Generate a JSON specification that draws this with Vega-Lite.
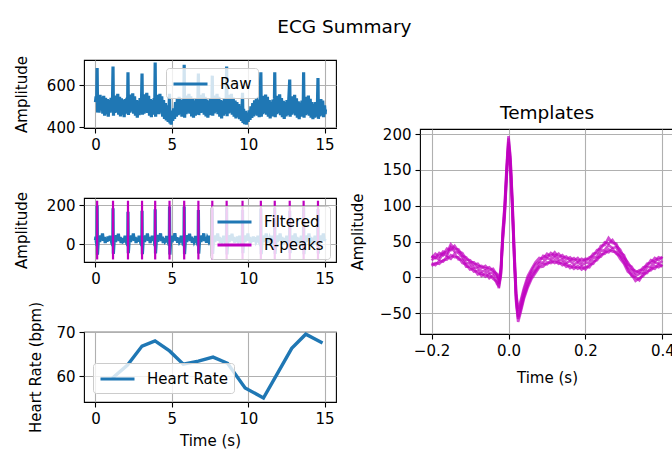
{
"$schema": "https://vega.github.io/schema/vega-lite/v6.json",
"background": "white",
"padding": {"left": 13, "top": 17, "right": 0, "bottom": 0},
"title": {"text": "ECG Summary", "fontSize": 18.5, "fontWeight": "normal", "font": "DejaVu Sans", "color": "black", "anchor": "middle", "offset": 19},
"config": {
  "font": "DejaVu Sans",
  "view": {"stroke": "black", "strokeWidth": 1.1},
  "axis": {"domain": false, "tickColor": "black", "tickSize": 5, "tickWidth": 1.1, "labelColor": "black", "labelFontSize": 15, "labelPadding": 4, "titleColor": "black", "titleFontSize": 15, "titleFontWeight": "normal", "titlePadding": 12, "gridColor": "#b0b0b0", "gridWidth": 1.1, "gridOpacity": 1, "labelFlush": false, "labelOverlap": false},
  "legend": {"orient": "none", "title": null, "symbolType": "M-1,0H3", "symbolStrokeWidth": 3, "symbolSize": 289, "labelFontSize": 15, "labelColor": "black", "fillColor": "rgba(255,255,255,0.8)", "strokeColor": "#cccccc", "cornerRadius": 3, "padding": 6, "labelOffset": 28, "zindex": 1, "rowPadding": 5},
  "title": {"fontSize": 18.5, "fontWeight": "normal", "color": "black"}
},
"datasets": {
"raw": [
{"t":0,"v":520},{"t":0.04,"v":548},{"t":0.08,"v":528},{"t":0.11,"v":684},{"t":0.14,"v":470},{"t":0.18,"v":540},{"t":0.24,"v":470},{"t":0.3,"v":555},{"t":0.36,"v":480},{"t":0.42,"v":545},{"t":0.48,"v":465},{"t":0.54,"v":550},{"t":0.6,"v":455},{"t":0.66,"v":540},{"t":0.72,"v":462},{"t":0.78,"v":535},{"t":0.84,"v":450},{"t":0.9,"v":530},{"t":0.96,"v":470},{"t":1.02,"v":540},{"t":1.08,"v":478},{"t":1.12,"v":545},
{"t":1.15,"v":691},{"t":1.18,"v":455},{"t":1.22,"v":548},{"t":1.28,"v":468},{"t":1.34,"v":552},{"t":1.4,"v":472},{"t":1.46,"v":560},{"t":1.52,"v":460},{"t":1.58,"v":545},{"t":1.64,"v":452},{"t":1.7,"v":538},{"t":1.76,"v":460},{"t":1.82,"v":530},{"t":1.88,"v":448},{"t":1.94,"v":535},{"t":2,"v":465},{"t":2.06,"v":540},{"t":2.1,"v":480},
{"t":2.13,"v":663},{"t":2.16,"v":458},{"t":2.2,"v":545},{"t":2.26,"v":470},{"t":2.32,"v":556},{"t":2.38,"v":475},{"t":2.44,"v":562},{"t":2.5,"v":465},{"t":2.56,"v":548},{"t":2.62,"v":455},{"t":2.68,"v":530},{"t":2.74,"v":445},{"t":2.8,"v":528},{"t":2.86,"v":458},{"t":2.92,"v":540},{"t":2.98,"v":470},{"t":3.02,"v":545},
{"t":3.05,"v":657},{"t":3.08,"v":460},{"t":3.12,"v":550},{"t":3.18,"v":465},{"t":3.24,"v":558},{"t":3.3,"v":470},{"t":3.36,"v":565},{"t":3.42,"v":468},{"t":3.48,"v":550},{"t":3.54,"v":455},{"t":3.6,"v":535},{"t":3.66,"v":448},{"t":3.72,"v":530},{"t":3.78,"v":460},{"t":3.84,"v":540},{"t":3.88,"v":475},
{"t":3.91,"v":710},{"t":3.94,"v":450},{"t":3.98,"v":545},{"t":4.04,"v":470},{"t":4.1,"v":555},{"t":4.16,"v":462},{"t":4.22,"v":560},{"t":4.28,"v":470},{"t":4.34,"v":548},{"t":4.4,"v":450},{"t":4.46,"v":530},{"t":4.52,"v":440},{"t":4.58,"v":515},{"t":4.64,"v":432},{"t":4.7,"v":505},{"t":4.76,"v":425},{"t":4.82,"v":500},
{"t":4.85,"v":560},{"t":4.88,"v":418},{"t":4.92,"v":480},{"t":4.96,"v":412},{"t":5,"v":470},{"t":5.06,"v":430},{"t":5.12,"v":490},{"t":5.18,"v":440},{"t":5.24,"v":520},{"t":5.3,"v":450},{"t":5.36,"v":535},{"t":5.42,"v":458},{"t":5.48,"v":545},{"t":5.54,"v":462},{"t":5.6,"v":532},{"t":5.66,"v":450},{"t":5.72,"v":528},{"t":5.78,"v":470},
{"t":5.81,"v":699},{"t":5.84,"v":445},{"t":5.88,"v":540},{"t":5.94,"v":462},{"t":6,"v":552},{"t":6.06,"v":470},{"t":6.12,"v":560},{"t":6.18,"v":465},{"t":6.24,"v":548},{"t":6.3,"v":452},{"t":6.36,"v":535},{"t":6.42,"v":445},{"t":6.48,"v":528},{"t":6.54,"v":455},{"t":6.6,"v":538},{"t":6.66,"v":462},{"t":6.71,"v":545},
{"t":6.74,"v":657},{"t":6.77,"v":458},{"t":6.82,"v":548},{"t":6.88,"v":468},{"t":6.94,"v":555},{"t":7,"v":470},{"t":7.06,"v":562},{"t":7.12,"v":460},{"t":7.18,"v":545},{"t":7.24,"v":452},{"t":7.3,"v":532},{"t":7.36,"v":446},{"t":7.42,"v":526},{"t":7.48,"v":458},{"t":7.54,"v":536},{"t":7.6,"v":466},{"t":7.63,"v":540},
{"t":7.65,"v":647},{"t":7.68,"v":455},{"t":7.72,"v":545},{"t":7.78,"v":466},{"t":7.84,"v":552},{"t":7.9,"v":472},{"t":7.96,"v":560},{"t":8.02,"v":462},{"t":8.08,"v":545},{"t":8.14,"v":450},{"t":8.2,"v":530},{"t":8.26,"v":442},{"t":8.32,"v":525},{"t":8.38,"v":455},{"t":8.44,"v":535},{"t":8.5,"v":462},{"t":8.56,"v":542},
{"t":8.59,"v":691},{"t":8.62,"v":452},{"t":8.66,"v":545},{"t":8.72,"v":466},{"t":8.78,"v":555},{"t":8.84,"v":470},{"t":8.9,"v":560},{"t":8.96,"v":460},{"t":9.02,"v":542},{"t":9.08,"v":450},{"t":9.14,"v":528},{"t":9.2,"v":442},{"t":9.26,"v":520},{"t":9.32,"v":448},{"t":9.38,"v":510},{"t":9.44,"v":438},{"t":9.5,"v":500},{"t":9.56,"v":430},{"t":9.6,"v":495},
{"t":9.63,"v":565},{"t":9.66,"v":420},{"t":9.7,"v":488},{"t":9.76,"v":415},{"t":9.82,"v":478},{"t":9.88,"v":412},{"t":9.94,"v":470},{"t":10,"v":425},{"t":10.06,"v":480},{"t":10.12,"v":435},{"t":10.18,"v":500},{"t":10.24,"v":445},{"t":10.3,"v":515},{"t":10.36,"v":452},{"t":10.42,"v":528},{"t":10.48,"v":460},{"t":10.54,"v":540},{"t":10.6,"v":455},{"t":10.66,"v":532},{"t":10.72,"v":448},{"t":10.78,"v":535},
{"t":10.83,"v":663},{"t":10.86,"v":450},{"t":10.9,"v":540},{"t":10.96,"v":462},{"t":11.02,"v":550},{"t":11.08,"v":468},{"t":11.14,"v":556},{"t":11.2,"v":460},{"t":11.26,"v":545},{"t":11.32,"v":450},{"t":11.38,"v":530},{"t":11.44,"v":442},{"t":11.5,"v":522},{"t":11.56,"v":452},{"t":11.62,"v":532},{"t":11.68,"v":460},{"t":11.72,"v":538},
{"t":11.74,"v":663},{"t":11.77,"v":448},{"t":11.82,"v":540},{"t":11.88,"v":462},{"t":11.94,"v":550},{"t":12,"v":468},{"t":12.06,"v":558},{"t":12.12,"v":458},{"t":12.18,"v":540},{"t":12.24,"v":448},{"t":12.3,"v":526},{"t":12.36,"v":440},{"t":12.42,"v":520},{"t":12.48,"v":452},{"t":12.54,"v":530},{"t":12.6,"v":458},{"t":12.66,"v":536},
{"t":12.72,"v":628},{"t":12.75,"v":450},{"t":12.8,"v":540},{"t":12.86,"v":460},{"t":12.92,"v":548},{"t":12.98,"v":466},{"t":13.04,"v":555},{"t":13.1,"v":456},{"t":13.16,"v":538},{"t":13.22,"v":446},{"t":13.28,"v":524},{"t":13.34,"v":438},{"t":13.4,"v":518},{"t":13.46,"v":450},{"t":13.52,"v":528},{"t":13.58,"v":456},{"t":13.61,"v":535},
{"t":13.63,"v":663},{"t":13.66,"v":445},{"t":13.7,"v":535},{"t":13.76,"v":458},{"t":13.82,"v":545},{"t":13.88,"v":462},{"t":13.94,"v":552},{"t":14,"v":455},{"t":14.06,"v":536},{"t":14.12,"v":445},{"t":14.18,"v":520},{"t":14.24,"v":438},{"t":14.3,"v":512},{"t":14.36,"v":446},{"t":14.42,"v":520},{"t":14.48,"v":450},{"t":14.54,"v":528},
{"t":14.57,"v":636},{"t":14.6,"v":440},{"t":14.64,"v":525},{"t":14.7,"v":452},{"t":14.76,"v":535},{"t":14.82,"v":456},{"t":14.88,"v":528},{"t":14.94,"v":448},{"t":15,"v":505},{"t":15.04,"v":462},{"t":15.06,"v":485}
],
"filt": [
{"t":0,"v":22},{"t":0.03,"v":40},{"t":0.06,"v":12},{"t":0.085,"v":2},{"t":0.095,"v":-8},{"t":0.11,"v":199},{"t":0.132,"v":-53},{"t":0.17,"v":0},{"t":0.22,"v":34},{"t":0.28,"v":12},{"t":0.34,"v":46},{"t":0.4,"v":22},{"t":0.46,"v":56},{"t":0.52,"v":18},{"t":0.58,"v":38},{"t":0.64,"v":8},{"t":0.7,"v":33},{"t":0.76,"v":14},{"t":0.82,"v":40},
{"t":0.9,"v":20},{"t":0.96,"v":44},{"t":1.02,"v":24},{"t":1.08,"v":36},{"t":1.115,"v":6},{"t":1.135,"v":-8},{"t":1.15,"v":186},{"t":1.172,"v":-48},{"t":1.21,"v":0},{"t":1.26,"v":35},{"t":1.32,"v":12},{"t":1.38,"v":47},{"t":1.44,"v":22},{"t":1.5,"v":55},{"t":1.56,"v":18},{"t":1.62,"v":38},{"t":1.68,"v":8},{"t":1.74,"v":33},{"t":1.8,"v":14},
{"t":1.88,"v":18},{"t":1.94,"v":44},{"t":2,"v":24},{"t":2.06,"v":36},{"t":2.095,"v":6},{"t":2.115,"v":-8},{"t":2.13,"v":168},{"t":2.152,"v":-45},{"t":2.19,"v":0},{"t":2.24,"v":34},{"t":2.3,"v":12},{"t":2.36,"v":46},{"t":2.42,"v":22},{"t":2.48,"v":56},{"t":2.54,"v":18},{"t":2.6,"v":38},{"t":2.66,"v":8},{"t":2.72,"v":33},{"t":2.78,"v":14},
{"t":2.8,"v":20},{"t":2.86,"v":44},{"t":2.92,"v":24},{"t":2.98,"v":36},{"t":3.015,"v":6},{"t":3.035,"v":-8},{"t":3.05,"v":172},{"t":3.072,"v":-50},{"t":3.11,"v":0},{"t":3.16,"v":34},{"t":3.22,"v":12},{"t":3.28,"v":46},{"t":3.34,"v":22},{"t":3.4,"v":56},{"t":3.46,"v":18},{"t":3.52,"v":38},{"t":3.58,"v":8},{"t":3.64,"v":33},
{"t":3.66,"v":18},{"t":3.72,"v":45},{"t":3.78,"v":22},{"t":3.84,"v":37},{"t":3.875,"v":5},{"t":3.895,"v":-9},{"t":3.91,"v":180},{"t":3.932,"v":-46},{"t":3.97,"v":1},{"t":4.02,"v":33},{"t":4.08,"v":13},{"t":4.14,"v":48},{"t":4.2,"v":21},{"t":4.26,"v":57},{"t":4.32,"v":17},{"t":4.38,"v":39},{"t":4.44,"v":7},{"t":4.5,"v":32},{"t":4.56,"v":15},
{"t":4.6,"v":19},{"t":4.66,"v":43},{"t":4.72,"v":25},{"t":4.78,"v":35},{"t":4.815,"v":4},{"t":4.835,"v":-7},{"t":4.85,"v":195},{"t":4.872,"v":-52},{"t":4.91,"v":2},{"t":4.96,"v":35},{"t":5.02,"v":11},{"t":5.08,"v":45},{"t":5.14,"v":23},{"t":5.2,"v":58},{"t":5.26,"v":19},{"t":5.32,"v":37},{"t":5.38,"v":9},{"t":5.44,"v":34},{"t":5.5,"v":13},
{"t":5.56,"v":21},{"t":5.62,"v":44},{"t":5.68,"v":23},{"t":5.74,"v":37},{"t":5.775,"v":6},{"t":5.795,"v":-8},{"t":5.81,"v":194},{"t":5.832,"v":-50},{"t":5.87,"v":0},{"t":5.92,"v":33},{"t":5.98,"v":12},{"t":6.04,"v":47},{"t":6.1,"v":22},{"t":6.16,"v":55},{"t":6.22,"v":18},{"t":6.28,"v":40},{"t":6.34,"v":8},{"t":6.4,"v":31},{"t":6.46,"v":14},
{"t":6.49,"v":20},{"t":6.55,"v":43},{"t":6.61,"v":24},{"t":6.67,"v":36},{"t":6.705,"v":5},{"t":6.725,"v":-9},{"t":6.74,"v":176},{"t":6.762,"v":-47},{"t":6.8,"v":1},{"t":6.85,"v":34},{"t":6.91,"v":13},{"t":6.97,"v":46},{"t":7.03,"v":21},{"t":7.09,"v":57},{"t":7.15,"v":17},{"t":7.21,"v":38},{"t":7.27,"v":9},{"t":7.33,"v":32},
{"t":7.4,"v":19},{"t":7.46,"v":44},{"t":7.52,"v":24},{"t":7.58,"v":35},{"t":7.615,"v":6},{"t":7.635,"v":-8},{"t":7.65,"v":185},{"t":7.672,"v":-49},{"t":7.71,"v":0},{"t":7.76,"v":35},{"t":7.82,"v":12},{"t":7.88,"v":46},{"t":7.94,"v":22},{"t":8,"v":56},{"t":8.06,"v":18},{"t":8.12,"v":38},{"t":8.18,"v":8},{"t":8.24,"v":33},{"t":8.3,"v":15},
{"t":8.34,"v":20},{"t":8.4,"v":44},{"t":8.46,"v":24},{"t":8.52,"v":36},{"t":8.555,"v":5},{"t":8.575,"v":-8},{"t":8.59,"v":190},{"t":8.612,"v":-51},{"t":8.65,"v":1},{"t":8.7,"v":34},{"t":8.76,"v":12},{"t":8.82,"v":47},{"t":8.88,"v":22},{"t":8.94,"v":55},{"t":9,"v":18},{"t":9.06,"v":38},{"t":9.12,"v":9},{"t":9.18,"v":33},{"t":9.24,"v":14},{"t":9.3,"v":40},{"t":9.36,"v":17},
{"t":9.38,"v":20},{"t":9.44,"v":44},{"t":9.5,"v":24},{"t":9.56,"v":36},{"t":9.595,"v":6},{"t":9.615,"v":-8},{"t":9.63,"v":178},{"t":9.652,"v":-45},{"t":9.69,"v":0},{"t":9.74,"v":34},{"t":9.8,"v":12},{"t":9.86,"v":46},{"t":9.92,"v":22},{"t":9.98,"v":56},{"t":10.04,"v":18},{"t":10.1,"v":38},{"t":10.16,"v":8},{"t":10.22,"v":33},{"t":10.28,"v":14},{"t":10.34,"v":40},{"t":10.4,"v":16},{"t":10.46,"v":36},{"t":10.52,"v":12},
{"t":10.58,"v":20},{"t":10.64,"v":44},{"t":10.7,"v":24},{"t":10.76,"v":36},{"t":10.795,"v":5},{"t":10.815,"v":-8},{"t":10.83,"v":184},{"t":10.852,"v":-50},{"t":10.89,"v":0},{"t":10.94,"v":34},{"t":11,"v":12},{"t":11.06,"v":46},{"t":11.12,"v":22},{"t":11.18,"v":56},{"t":11.24,"v":18},{"t":11.3,"v":38},{"t":11.36,"v":8},{"t":11.42,"v":33},
{"t":11.49,"v":20},{"t":11.55,"v":44},{"t":11.61,"v":24},{"t":11.67,"v":36},{"t":11.705,"v":5},{"t":11.725,"v":-8},{"t":11.74,"v":188},{"t":11.762,"v":-48},{"t":11.8,"v":0},{"t":11.85,"v":34},{"t":11.91,"v":12},{"t":11.97,"v":46},{"t":12.03,"v":22},{"t":12.09,"v":56},{"t":12.15,"v":18},{"t":12.21,"v":38},{"t":12.27,"v":8},{"t":12.33,"v":33},{"t":12.39,"v":14},
{"t":12.47,"v":20},{"t":12.53,"v":44},{"t":12.59,"v":24},{"t":12.65,"v":36},{"t":12.685,"v":5},{"t":12.705,"v":-8},{"t":12.72,"v":172},{"t":12.742,"v":-44},{"t":12.78,"v":0},{"t":12.83,"v":34},{"t":12.89,"v":12},{"t":12.95,"v":46},{"t":13.01,"v":22},{"t":13.07,"v":56},{"t":13.13,"v":18},{"t":13.19,"v":38},{"t":13.25,"v":8},{"t":13.31,"v":33},{"t":13.37,"v":14},
{"t":13.42,"v":20},{"t":13.48,"v":44},{"t":13.54,"v":24},{"t":13.58,"v":36},{"t":13.595,"v":5},{"t":13.615,"v":-8},{"t":13.63,"v":190},{"t":13.652,"v":-50},{"t":13.69,"v":0},{"t":13.74,"v":34},{"t":13.8,"v":12},{"t":13.86,"v":46},{"t":13.92,"v":22},{"t":13.98,"v":56},{"t":14.04,"v":18},{"t":14.1,"v":38},{"t":14.16,"v":8},{"t":14.22,"v":33},{"t":14.28,"v":14},
{"t":14.32,"v":20},{"t":14.38,"v":44},{"t":14.44,"v":24},{"t":14.5,"v":36},{"t":14.535,"v":5},{"t":14.555,"v":-8},{"t":14.57,"v":182},{"t":14.592,"v":-47},{"t":14.63,"v":0},{"t":14.68,"v":34},{"t":14.74,"v":12},{"t":14.8,"v":46},{"t":14.86,"v":22},{"t":14.92,"v":56},{"t":14.98,"v":18},{"t":15.04,"v":30}
],
"rpk": [
{"t":0.11},{"t":1.15},{"t":2.13},{"t":3.05},{"t":3.91},{"t":4.85},{"t":5.81},{"t":6.74},{"t":7.65},{"t":8.59},{"t":9.63},{"t":10.83},{"t":11.74},{"t":12.72},{"t":13.63},{"t":14.57}
],
"hr": [
{"t":1.1,"v":59.6},{"t":2.1,"v":62.6},{"t":3.05,"v":66.9},{"t":3.9,"v":68.1},{"t":4.85,"v":65.8},{"t":5.75,"v":62.8},{"t":6.74,"v":63.5},{"t":7.7,"v":64.4},{"t":8.65,"v":63.0},{"t":9.8,"v":57.4},{"t":11.0,"v":55.1},{"t":11.9,"v":60.6},{"t":12.85,"v":66.4},{"t":13.77,"v":69.6},{"t":14.87,"v":67.6}
],
"tmpl": [
{"k":1,"t":-0.2,"v":30},{"k":1,"t":-0.19,"v":27},{"k":1,"t":-0.18,"v":34},{"k":1,"t":-0.17,"v":31},{"k":1,"t":-0.16,"v":40},{"k":1,"t":-0.15,"v":38},{"k":1,"t":-0.14,"v":44},{"k":1,"t":-0.13,"v":36},{"k":1,"t":-0.12,"v":34},{"k":1,"t":-0.11,"v":25},{"k":1,"t":-0.1,"v":24},{"k":1,"t":-0.09,"v":18},{"k":1,"t":-0.08,"v":19},{"k":1,"t":-0.07,"v":13},{"k":1,"t":-0.06,"v":16},{"k":1,"t":-0.05,"v":10},{"k":1,"t":-0.04,"v":12},{"k":1,"t":-0.03,"v":3},{"k":1,"t":-0.025,"v":-4},{"k":1,"t":-0.02,"v":12},{"k":1,"t":-0.015,"v":62},{"k":1,"t":-0.01,"v":98},{"k":1,"t":-0.005,"v":150},{"k":1,"t":0,"v":194},{"k":1,"t":0.005,"v":165},{"k":1,"t":0.01,"v":106},{"k":1,"t":0.015,"v":36},{"k":1,"t":0.02,"v":-26},{"k":1,"t":0.025,"v":-47},{"k":1,"t":0.03,"v":-40},{"k":1,"t":0.04,"v":-18},{"k":1,"t":0.05,"v":-2},{"k":1,"t":0.06,"v":9},{"k":1,"t":0.07,"v":18},{"k":1,"t":0.08,"v":22},{"k":1,"t":0.09,"v":30},{"k":1,"t":0.1,"v":28},{"k":1,"t":0.11,"v":34},{"k":1,"t":0.12,"v":30},{"k":1,"t":0.13,"v":33},{"k":1,"t":0.14,"v":27},{"k":1,"t":0.15,"v":29},{"k":1,"t":0.16,"v":24},{"k":1,"t":0.17,"v":27},{"k":1,"t":0.18,"v":22},{"k":1,"t":0.19,"v":26},{"k":1,"t":0.2,"v":23},{"k":1,"t":0.21,"v":28},{"k":1,"t":0.22,"v":30},{"k":1,"t":0.23,"v":38},{"k":1,"t":0.24,"v":40},{"k":1,"t":0.25,"v":49},{"k":1,"t":0.26,"v":47},{"k":1,"t":0.27,"v":52},{"k":1,"t":0.28,"v":44},{"k":1,"t":0.29,"v":39},{"k":1,"t":0.3,"v":28},{"k":1,"t":0.31,"v":21},{"k":1,"t":0.32,"v":12},{"k":1,"t":0.33,"v":9},{"k":1,"t":0.34,"v":7},{"k":1,"t":0.35,"v":14},{"k":1,"t":0.36,"v":16},{"k":1,"t":0.37,"v":24},{"k":1,"t":0.38,"v":22},{"k":1,"t":0.39,"v":28},{"k":1,"t":0.4,"v":26},
{"k":2,"t":-0.2,"v":16},{"k":2,"t":-0.19,"v":20},{"k":2,"t":-0.18,"v":19},{"k":2,"t":-0.17,"v":24},{"k":2,"t":-0.16,"v":25},{"k":2,"t":-0.15,"v":31},{"k":2,"t":-0.14,"v":28},{"k":2,"t":-0.13,"v":28},{"k":2,"t":-0.12,"v":20},{"k":2,"t":-0.11,"v":18},{"k":2,"t":-0.1,"v":11},{"k":2,"t":-0.09,"v":12},{"k":2,"t":-0.08,"v":4},{"k":2,"t":-0.07,"v":6},{"k":2,"t":-0.06,"v":1},{"k":2,"t":-0.05,"v":4},{"k":2,"t":-0.04,"v":-2},{"k":2,"t":-0.03,"v":-6},{"k":2,"t":-0.025,"v":-15},{"k":2,"t":-0.02,"v":2},{"k":2,"t":-0.015,"v":50},{"k":2,"t":-0.01,"v":84},{"k":2,"t":-0.005,"v":138},{"k":2,"t":0,"v":182},{"k":2,"t":0.005,"v":152},{"k":2,"t":0.01,"v":92},{"k":2,"t":0.015,"v":22},{"k":2,"t":0.02,"v":-36},{"k":2,"t":0.025,"v":-62},{"k":2,"t":0.03,"v":-52},{"k":2,"t":0.04,"v":-30},{"k":2,"t":0.05,"v":-14},{"k":2,"t":0.06,"v":-2},{"k":2,"t":0.07,"v":6},{"k":2,"t":0.08,"v":14},{"k":2,"t":0.09,"v":15},{"k":2,"t":0.1,"v":21},{"k":2,"t":0.11,"v":20},{"k":2,"t":0.12,"v":24},{"k":2,"t":0.13,"v":19},{"k":2,"t":0.14,"v":21},{"k":2,"t":0.15,"v":15},{"k":2,"t":0.16,"v":17},{"k":2,"t":0.17,"v":12},{"k":2,"t":0.18,"v":16},{"k":2,"t":0.19,"v":11},{"k":2,"t":0.2,"v":15},{"k":2,"t":0.21,"v":14},{"k":2,"t":0.22,"v":22},{"k":2,"t":0.23,"v":24},{"k":2,"t":0.24,"v":32},{"k":2,"t":0.25,"v":33},{"k":2,"t":0.26,"v":39},{"k":2,"t":0.27,"v":36},{"k":2,"t":0.28,"v":35},{"k":2,"t":0.29,"v":26},{"k":2,"t":0.3,"v":19},{"k":2,"t":0.31,"v":8},{"k":2,"t":0.32,"v":4},{"k":2,"t":0.33,"v":-5},{"k":2,"t":0.34,"v":-1},{"k":2,"t":0.35,"v":2},{"k":2,"t":0.36,"v":9},{"k":2,"t":0.37,"v":10},{"k":2,"t":0.38,"v":16},{"k":2,"t":0.39,"v":14},{"k":2,"t":0.4,"v":18},
{"k":3,"t":-0.2,"v":24},{"k":3,"t":-0.19,"v":28},{"k":3,"t":-0.18,"v":25},{"k":3,"t":-0.17,"v":33},{"k":3,"t":-0.16,"v":30},{"k":3,"t":-0.15,"v":42},{"k":3,"t":-0.14,"v":36},{"k":3,"t":-0.13,"v":34},{"k":3,"t":-0.12,"v":28},{"k":3,"t":-0.11,"v":20},{"k":3,"t":-0.1,"v":19},{"k":3,"t":-0.09,"v":14},{"k":3,"t":-0.08,"v":13},{"k":3,"t":-0.07,"v":8},{"k":3,"t":-0.06,"v":10},{"k":3,"t":-0.05,"v":6},{"k":3,"t":-0.04,"v":7},{"k":3,"t":-0.03,"v":0},{"k":3,"t":-0.025,"v":-9},{"k":3,"t":-0.02,"v":6},{"k":3,"t":-0.015,"v":56},{"k":3,"t":-0.01,"v":92},{"k":3,"t":-0.005,"v":144},{"k":3,"t":0,"v":189},{"k":3,"t":0.005,"v":158},{"k":3,"t":0.01,"v":99},{"k":3,"t":0.015,"v":28},{"k":3,"t":0.02,"v":-31},{"k":3,"t":0.025,"v":-55},{"k":3,"t":0.03,"v":-46},{"k":3,"t":0.04,"v":-25},{"k":3,"t":0.05,"v":-9},{"k":3,"t":0.06,"v":5},{"k":3,"t":0.07,"v":11},{"k":3,"t":0.08,"v":20},{"k":3,"t":0.09,"v":21},{"k":3,"t":0.1,"v":27},{"k":3,"t":0.11,"v":25},{"k":3,"t":0.12,"v":29},{"k":3,"t":0.13,"v":24},{"k":3,"t":0.14,"v":25},{"k":3,"t":0.15,"v":20},{"k":3,"t":0.16,"v":23},{"k":3,"t":0.17,"v":18},{"k":3,"t":0.18,"v":21},{"k":3,"t":0.19,"v":17},{"k":3,"t":0.2,"v":20},{"k":3,"t":0.21,"v":21},{"k":3,"t":0.22,"v":27},{"k":3,"t":0.23,"v":29},{"k":3,"t":0.24,"v":37},{"k":3,"t":0.25,"v":38},{"k":3,"t":0.26,"v":45},{"k":3,"t":0.27,"v":41},{"k":3,"t":0.28,"v":42},{"k":3,"t":0.29,"v":31},{"k":3,"t":0.3,"v":25},{"k":3,"t":0.31,"v":14},{"k":3,"t":0.32,"v":9},{"k":3,"t":0.33,"v":2},{"k":3,"t":0.34,"v":5},{"k":3,"t":0.35,"v":7},{"k":3,"t":0.36,"v":14},{"k":3,"t":0.37,"v":15},{"k":3,"t":0.38,"v":21},{"k":3,"t":0.39,"v":19},{"k":3,"t":0.4,"v":23},
{"k":4,"t":-0.2,"v":27},{"k":4,"t":-0.19,"v":33},{"k":4,"t":-0.18,"v":29},{"k":4,"t":-0.17,"v":36},{"k":4,"t":-0.16,"v":34},{"k":4,"t":-0.15,"v":46},{"k":4,"t":-0.14,"v":40},{"k":4,"t":-0.13,"v":39},{"k":4,"t":-0.12,"v":30},{"k":4,"t":-0.11,"v":28},{"k":4,"t":-0.1,"v":21},{"k":4,"t":-0.09,"v":21},{"k":4,"t":-0.08,"v":15},{"k":4,"t":-0.07,"v":16},{"k":4,"t":-0.06,"v":12},{"k":4,"t":-0.05,"v":14},{"k":4,"t":-0.04,"v":9},{"k":4,"t":-0.03,"v":5},{"k":4,"t":-0.025,"v":-2},{"k":4,"t":-0.02,"v":10},{"k":4,"t":-0.015,"v":66},{"k":4,"t":-0.01,"v":102},{"k":4,"t":-0.005,"v":155},{"k":4,"t":0,"v":197},{"k":4,"t":0.005,"v":168},{"k":4,"t":0.01,"v":110},{"k":4,"t":0.015,"v":40},{"k":4,"t":0.02,"v":-22},{"k":4,"t":0.025,"v":-44},{"k":4,"t":0.03,"v":-36},{"k":4,"t":0.04,"v":-15},{"k":4,"t":0.05,"v":2},{"k":4,"t":0.06,"v":12},{"k":4,"t":0.07,"v":21},{"k":4,"t":0.08,"v":27},{"k":4,"t":0.09,"v":26},{"k":4,"t":0.1,"v":33},{"k":4,"t":0.11,"v":29},{"k":4,"t":0.12,"v":35},{"k":4,"t":0.13,"v":28},{"k":4,"t":0.14,"v":31},{"k":4,"t":0.15,"v":25},{"k":4,"t":0.16,"v":28},{"k":4,"t":0.17,"v":23},{"k":4,"t":0.18,"v":27},{"k":4,"t":0.19,"v":21},{"k":4,"t":0.2,"v":26},{"k":4,"t":0.21,"v":25},{"k":4,"t":0.22,"v":33},{"k":4,"t":0.23,"v":34},{"k":4,"t":0.24,"v":44},{"k":4,"t":0.25,"v":45},{"k":4,"t":0.26,"v":55},{"k":4,"t":0.27,"v":48},{"k":4,"t":0.28,"v":47},{"k":4,"t":0.29,"v":35},{"k":4,"t":0.3,"v":31},{"k":4,"t":0.31,"v":18},{"k":4,"t":0.32,"v":15},{"k":4,"t":0.33,"v":6},{"k":4,"t":0.34,"v":10},{"k":4,"t":0.35,"v":11},{"k":4,"t":0.36,"v":19},{"k":4,"t":0.37,"v":20},{"k":4,"t":0.38,"v":27},{"k":4,"t":0.39,"v":24},{"k":4,"t":0.4,"v":29},
{"k":5,"t":-0.2,"v":20},{"k":5,"t":-0.19,"v":17},{"k":5,"t":-0.18,"v":23},{"k":5,"t":-0.17,"v":22},{"k":5,"t":-0.16,"v":29},{"k":5,"t":-0.15,"v":26},{"k":5,"t":-0.14,"v":33},{"k":5,"t":-0.13,"v":25},{"k":5,"t":-0.12,"v":25},{"k":5,"t":-0.11,"v":15},{"k":5,"t":-0.1,"v":15},{"k":5,"t":-0.09,"v":8},{"k":5,"t":-0.08,"v":9},{"k":5,"t":-0.07,"v":2},{"k":5,"t":-0.06,"v":6},{"k":5,"t":-0.05,"v":-1},{"k":5,"t":-0.04,"v":3},{"k":5,"t":-0.03,"v":-9},{"k":5,"t":-0.025,"v":-12},{"k":5,"t":-0.02,"v":4},{"k":5,"t":-0.015,"v":53},{"k":5,"t":-0.01,"v":88},{"k":5,"t":-0.005,"v":141},{"k":5,"t":0,"v":186},{"k":5,"t":0.005,"v":155},{"k":5,"t":0.01,"v":95},{"k":5,"t":0.015,"v":25},{"k":5,"t":0.02,"v":-34},{"k":5,"t":0.025,"v":-58},{"k":5,"t":0.03,"v":-49},{"k":5,"t":0.04,"v":-27},{"k":5,"t":0.05,"v":-11},{"k":5,"t":0.06,"v":1},{"k":5,"t":0.07,"v":9},{"k":5,"t":0.08,"v":16},{"k":5,"t":0.09,"v":19},{"k":5,"t":0.1,"v":18},{"k":5,"t":0.11,"v":23},{"k":5,"t":0.12,"v":20},{"k":5,"t":0.13,"v":22},{"k":5,"t":0.14,"v":17},{"k":5,"t":0.15,"v":19},{"k":5,"t":0.16,"v":13},{"k":5,"t":0.17,"v":16},{"k":5,"t":0.18,"v":12},{"k":5,"t":0.19,"v":15},{"k":5,"t":0.2,"v":11},{"k":5,"t":0.21,"v":18},{"k":5,"t":0.22,"v":19},{"k":5,"t":0.23,"v":27},{"k":5,"t":0.24,"v":29},{"k":5,"t":0.25,"v":36},{"k":5,"t":0.26,"v":35},{"k":5,"t":0.27,"v":40},{"k":5,"t":0.28,"v":33},{"k":5,"t":0.29,"v":30},{"k":5,"t":0.3,"v":21},{"k":5,"t":0.31,"v":12},{"k":5,"t":0.32,"v":2},{"k":5,"t":0.33,"v":0},{"k":5,"t":0.34,"v":-4},{"k":5,"t":0.35,"v":5},{"k":5,"t":0.36,"v":6},{"k":5,"t":0.37,"v":13},{"k":5,"t":0.38,"v":12},{"k":5,"t":0.39,"v":18},{"k":5,"t":0.4,"v":15}
]
},
"spacing": 12,
"resolve": {"scale": {"color": "independent"}, "legend": {"color": "independent"}},
"hconcat": [
  {
    "vconcat": [
      {
        "width": 252, "height": 68,
        "data": {"name": "raw"},
        "mark": {"type": "line", "strokeWidth": 3.2, "clip": true},
        "encoding": {
          "x": {"field": "t", "type": "quantitative", "scale": {"domain": [-0.75, 15.75], "nice": false, "zero": false}, "axis": {"title": null, "values": [0, 5, 10, 15]}},
          "y": {"field": "v", "type": "quantitative", "scale": {"domain": [396, 722], "nice": false, "zero": false}, "axis": {"title": "Amplitude", "values": [400, 600], "titlePadding": 17}},
          "color": {"datum": "Raw", "scale": {"domain": ["Raw"], "range": ["#1f77b4"]}, "legend": {"legendX": 82, "legendY": 8}}
        }
      },
      {
        "width": 252, "height": 64,
        "layer": [
          {
            "data": {"name": "filt"},
            "mark": {"type": "line", "strokeWidth": 3.2, "clip": true},
            "encoding": {
              "x": {"field": "t", "type": "quantitative", "scale": {"domain": [-0.75, 15.75], "nice": false, "zero": false}, "axis": {"title": null, "values": [0, 5, 10, 15]}},
              "y": {"field": "v", "type": "quantitative", "scale": {"domain": [-90, 238], "nice": false, "zero": false}, "axis": {"title": "Amplitude", "values": [0, 200], "titlePadding": 17}},
              "color": {"datum": "Filtered", "scale": {"domain": ["Filtered", "R-peaks"], "range": ["#1f77b4", "#bf00bf"]}, "legend": {"legendX": 126, "legendY": 8}}
            }
          },
          {
            "data": {"name": "rpk"},
            "mark": {"type": "rule", "strokeWidth": 2.2, "clip": true},
            "encoding": {
              "x": {"field": "t", "type": "quantitative"},
              "y": {"datum": -77},
              "y2": {"datum": 224},
              "color": {"datum": "R-peaks"}
            }
          }
        ]
      },
      {
        "width": 252, "height": 70,
        "data": {"name": "hr"},
        "mark": {"type": "line", "strokeWidth": 3.4, "clip": true},
        "encoding": {
          "x": {"field": "t", "type": "quantitative", "scale": {"domain": [-0.75, 15.75], "nice": false, "zero": false}, "axis": {"title": "Time (s)", "values": [0, 5, 10, 15], "titlePadding": 7}},
          "y": {"field": "v", "type": "quantitative", "scale": {"domain": [54.2, 70.1], "nice": false, "zero": false}, "axis": {"title": "Heart Rate (bpm)", "values": [60, 70]}},
          "color": {"datum": "Heart Rate", "scale": {"domain": ["Heart Rate"], "range": ["#1f77b4"]}, "legend": {"legendX": 9, "legendY": 31}}
        }
      }
    ],
    "spacing": 70,
    "bounds": "flush",
    "resolve": {"scale": {"color": "independent"}, "legend": {"color": "independent"}}
  },
  {
    "vconcat": [
      {
        "width": 1, "height": 59,
        "data": {"values": []},
        "mark": "point",
        "view": {"stroke": null}
      },
      {
        "width": 254, "height": 205,
        "title": {"text": "Templates", "fontSize": 18.5, "fontWeight": "normal", "offset": 5},
        "data": {"name": "tmpl"},
        "mark": {"type": "line", "strokeWidth": 2.6, "opacity": 0.7, "color": "#bf00bf", "clip": true},
        "encoding": {
          "x": {"field": "t", "type": "quantitative", "scale": {"domain": [-0.23, 0.43], "nice": false, "zero": false}, "axis": {"title": "Time (s)", "values": [-0.2, 0, 0.2, 0.4], "format": ".1f"}},
          "y": {"field": "v", "type": "quantitative", "scale": {"domain": [-79, 207], "nice": false, "zero": false}, "axis": {"title": "Amplitude", "values": [-50, 0, 50, 100, 150, 200], "titlePadding": 14}},
          "detail": {"field": "k", "type": "nominal"}
        }
      }
    ],
    "spacing": 10,
    "bounds": "flush"
  }
]
}
